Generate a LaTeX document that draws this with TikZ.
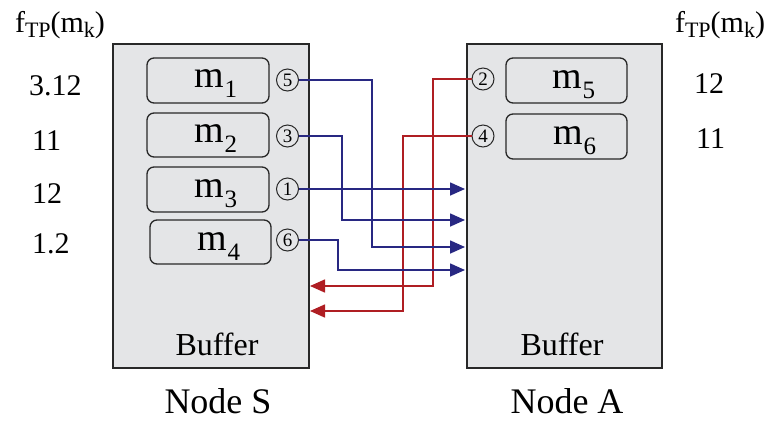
\documentclass[tikz,border=0pt]{standalone}
\usepackage{fontspec}
\setmainfont{Liberation Serif}
\usetikzlibrary{arrows.meta}
\definecolor{boxgray}{RGB}{228,229,231}
\definecolor{edgegray}{RGB}{40,40,40}
\definecolor{navy}{RGB}{40,40,130}
\definecolor{darkred}{RGB}{175,30,35}
\newcommand{\msglabel}[1]{{\fontsize{38}{40}\selectfont m\raisebox{-10pt}{\fontsize{25}{25}\selectfont #1}}}
\newcommand{\ftp}{{\fontsize{30}{32}\selectfont f\raisebox{-5pt}{\fontsize{22}{22}\selectfont TP}(m\raisebox{-5pt}{\fontsize{22}{22}\selectfont k})}}
\tikzset{
  nodebox/.style={draw=edgegray, fill=boxgray, line width=1.5pt},
  msgbox/.style={draw=edgegray, line width=1.3pt, rounded corners=7pt},
  msgtext/.style={anchor=base, inner sep=0pt},
  seq/.style={draw=edgegray, circle, line width=1pt, minimum size=22pt, inner sep=0pt, font=\fontsize{19}{19}\selectfont},
  num/.style={anchor=base west, inner sep=0pt, font=\fontsize{30}{32}\selectfont},
  buftext/.style={anchor=base, inner sep=0pt, font=\fontsize{32}{34}\selectfont},
  nametext/.style={anchor=base, inner sep=0pt, font=\fontsize{36}{38}\selectfont},
  blueline/.style={draw=navy, line width=1.6pt, -{Triangle[length=15pt,width=13pt]}},
  redline/.style={draw=darkred, line width=1.6pt, -{Triangle[length=15pt,width=13pt]}},
}
\begin{document}
\begin{tikzpicture}[x=1pt,y=-1pt]
\useasboundingbox (0,0) rectangle (774,424);
% big boxes
\draw[nodebox] (113,44) rectangle (309,368);
\draw[nodebox] (467,44) rectangle (662,368);
% message boxes S
\draw[msgbox] (147,58) rectangle (269,103);
\draw[msgbox] (147,113) rectangle (269,157);
\draw[msgbox] (147,167) rectangle (269,212);
\draw[msgbox] (150,220) rectangle (271,264);
% message boxes A
\draw[msgbox] (506,58) rectangle (627,103);
\draw[msgbox] (506,114) rectangle (627,159);
% labels
\node[msgtext] (m1) at (216,87) {\msglabel{1}};
\node[msgtext] (m2) at (216,142) {\msglabel{2}};
\node[msgtext] (m3) at (216,197) {\msglabel{3}};
\node[msgtext] (m4) at (219,250) {\msglabel{4}};
\node[msgtext] (m5) at (574,88) {\msglabel{5}};
\node[msgtext] (m6) at (575,144) {\msglabel{6}};
% sequence circles
\node[seq] (c5) at (287.5,80) {5};
\node[seq] (c3) at (287.5,136) {3};
\node[seq] (c1) at (287.5,189) {1};
\node[seq] (c6) at (287.5,240) {6};
\node[seq] (c2) at (483,79) {2};
\node[seq] (c4) at (483,136) {4};
% arrow end points
\coordinate (e1) at (465,189);
\coordinate (e3) at (465,220);
\coordinate (e5) at (465,247);
\coordinate (e6) at (465,270);
\coordinate (r2) at (310,286);
\coordinate (r4) at (310,311);
% red connectors
\draw[redline] (c2.west) -| (433,286) -- (r2);
\draw[redline] (c4.west) -| (403,311) -- (r4);
% blue connectors
\draw[blueline] (c1.east) -- (e1);
\draw[blueline] (c3.east) -| (342,220) -- (e3);
\draw[blueline] (c5.east) -| (372,247) -- (e5);
\draw[blueline] (c6.east) -| (338,270) -- (e6);
% f_TP headings
\node[anchor=base, inner sep=0pt] (fl) at (60,32) {\ftp};
\node[anchor=base, inner sep=0pt] (fr) at (720,32) {\ftp};
% values
\node[num] (v1) at (29,95) {3.12};
\node[num] (v2) at (32,150) {11};
\node[num] (v3) at (32,203) {12};
\node[num] (v4) at (32,253) {1.2};
\node[num] (v5) at (694,93) {12};
\node[num] (v6) at (696,148) {11};
% buffer and names
\node[buftext] (bs) at (217,355) {Buffer};
\node[buftext] (ba) at (562,355) {Buffer};
\node[nametext] (ns) at (218,413) {Node S};
\node[nametext] (na) at (567,413) {Node A};
\end{tikzpicture}
\end{document}
